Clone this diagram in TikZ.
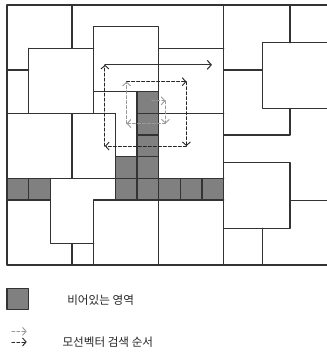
\documentclass[tikz,border=0pt]{standalone}
\usepackage{fontspec}
\setmainfont{Noto Sans CJK KR}
\usetikzlibrary{arrows.meta}
\begin{document}
\begin{tikzpicture}[x=21.67pt, y=-21.67pt, line join=round, line cap=round,
		font=\fontsize{11.6}{13}\selectfont,
		blk/.style={draw=black!80, line width=1.2pt},
		emptycell/.style={fill=gray, draw=black!80, line width=1.2pt},
		search/.style={dash pattern=on 3pt off 2pt, line width=0.9pt, black!85, -{Straight Barb[length=3.6pt,width=8pt]}},
		firstsearch/.style={search, gray!80},
		mainarrow/.style={line width=1.1pt, black!80, -{Straight Barb[length=4pt,width=9pt]}}]
	\useasboundingbox (-0.323,-0.231) rectangle (14.767,16.013);
	
	% Vùng trống (ô xám)
	\foreach \c/\r in {6/4,6/5,6/6,5/7,6/7,0/8,1/8,5/8,6/8,7/8,8/8,9/8}
		\filldraw[emptycell] (\c,\r) rectangle ++(1,1);
	
	% Khung ngoài
	\draw[blk] (14.767,0) -- (0,0) -- (0,12) -- (14.767,12);
	
	% Các khối bên trái
	\draw[blk] (3,0) -- (3,2) (0,3) -- (1,3) (1,2) -- (4,2) (1,2) -- (1,5) (0,5) -- (5,5);
	\draw[blk] (4,1) rectangle (7,4);
	\draw[blk] (4,4) -- (4,5) (5,5) -- (5,9) (3,5) -- (3,8);
	\draw[blk] (7,4) -- (7,12) (7,2) -- (10,2) (7,5) -- (10,5);
	\draw[blk] (0,8) -- (10,8) (0,9) -- (2,9) (4,9) -- (10,9);
	\draw[blk] (2,8) -- (2,11) -- (4,11) (3,11) -- (3,12) (4,9) -- (4,12);
	
	% Các khối bên phải
	\draw[blk] (10,0) -- (10,12);
	\draw[blk] (13.06,0) -- (13.06,1.74) (14.767,1.74) -- (11.78,1.74) -- (11.78,4.77) -- (14.767,4.77);
	\draw[blk] (10,3) -- (11.78,3) (13.06,4.77) -- (13.06,6) -- (10,6);
	\draw[blk] (10,7.28) -- (13.06,7.28) -- (13.06,10.3) -- (10,10.3);
	\draw[blk] (13.06,9.04) -- (14.767,9.04) (11.78,10.3) -- (11.78,12);
	
	% Thứ tự tìm kiếm
	\coordinate (s0) at (6.68,4.42);
	\coordinate (s1) at (7.31,4.42);
	\coordinate (s2) at (7.31,5.47);
	\coordinate (s3) at (5.52,5.47);
	\coordinate (s4) at (5.52,3.54);
	\coordinate (s5) at (8.28,3.54);
	\coordinate (s6) at (8.28,6.51);
	\coordinate (s7) at (4.52,6.51);
	\coordinate (s8) at (4.52,2.76);
	\coordinate (s9) at (9.46,2.76);
	\foreach \a/\b in {0/1,1/2,2/3,3/4}
		\draw[firstsearch] (s\a) -- (s\b);
	\foreach \a/\b in {4/5,5/6,6/7,7/8}
		\draw[search] (s\a) -- (s\b);
	\draw[mainarrow] (s8) -- (s9);
	
	% Chú thích
	\filldraw[emptycell] (0,13.08) rectangle (0.99,14.04);
	\node[anchor=west, black!85] (emptytxt) at (2.62,13.6) {비어있는 영역};
	\coordinate (l1a) at (0.22,15.06);
	\coordinate (l1b) at (0.91,15.06);
	\coordinate (l2a) at (0.22,15.55);
	\coordinate (l2b) at (0.91,15.55);
	\draw[firstsearch] (l1a) -- (l1b);
	\draw[search] (l2a) -- (l2b);
	\node[anchor=west, black!85] (ordertxt) at (2.4,15.54) {모선벡터 검색 순서};
\end{tikzpicture}
\end{document}
